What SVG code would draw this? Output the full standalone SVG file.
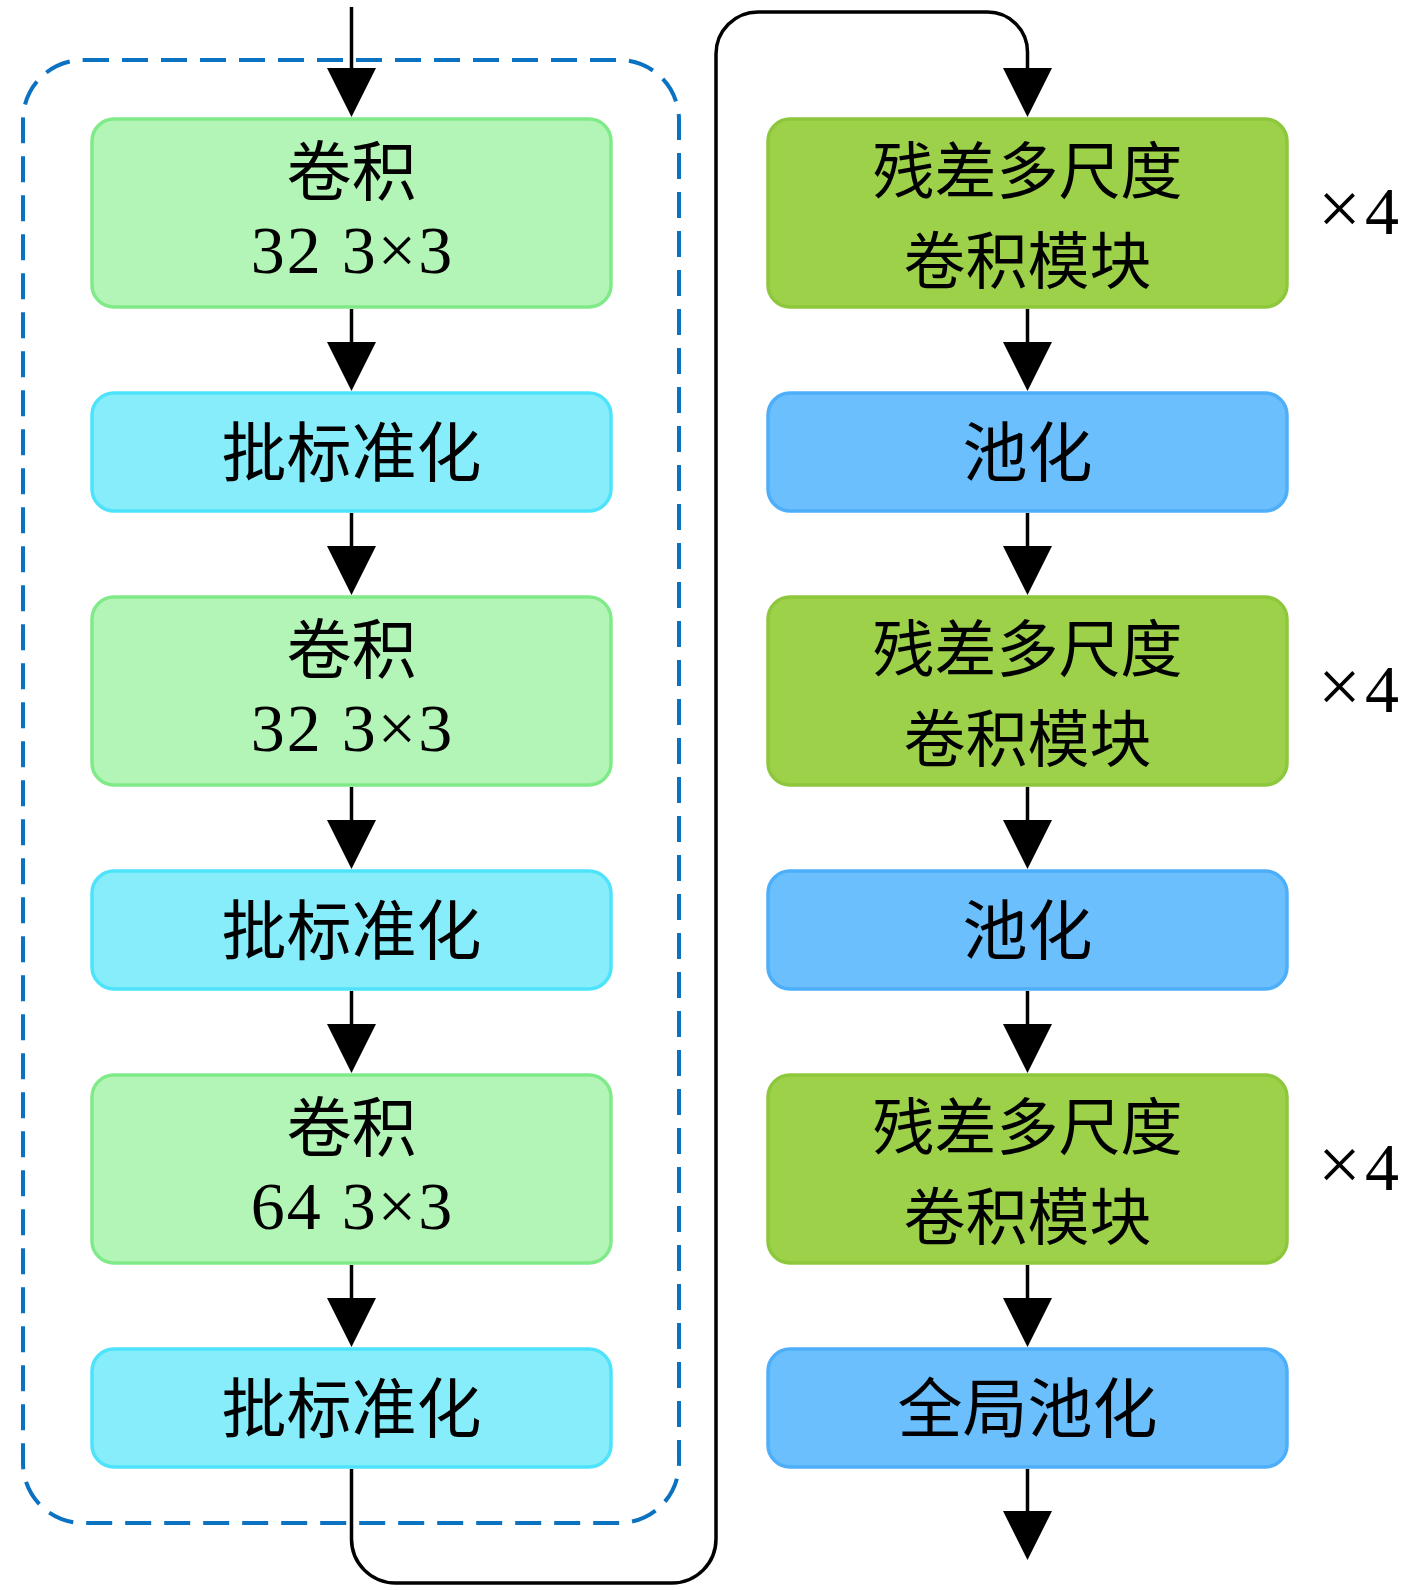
<svg xmlns="http://www.w3.org/2000/svg" width="1417" height="1590" viewBox="0 0 1417 1590">
<style>
.box{stroke-width:3.5}
.conv{fill:#b3f5b6;stroke:#80ea89}
.bn{fill:#88edfb;stroke:#4de3fb}
.res{fill:#9dd14a;stroke:#8dc73c}
.pool{fill:#6bbffd;stroke:#4daefa}
.cn{font-family:"Noto Sans CJK SC","Noto Sans CJK JP",sans-serif;font-size:65px;fill:#000;text-anchor:middle}
.cn2{font-family:"Noto Sans CJK SC","Noto Sans CJK JP",sans-serif;font-size:62px;fill:#000;text-anchor:middle}
.num{font-family:"Liberation Serif","DejaVu Serif",serif;font-size:68px;letter-spacing:2px;fill:#000;text-anchor:middle}
.rep{font-family:"Liberation Serif","DejaVu Serif",serif;font-size:68px;fill:#000}
.conn{fill:none;stroke:#000;stroke-width:3.5}
</style>
<defs>
<marker id="ah" viewBox="0 0 49 49" refX="0" refY="24.5" markerWidth="49" markerHeight="49" markerUnits="userSpaceOnUse" orient="auto">
<path d="M0,0 L49,24.5 L0,49 Z" fill="#000"/>
</marker>
</defs>
<rect id="group" x="23" y="60" width="656" height="1463" rx="60" fill="none" stroke="#0b72c1" stroke-width="4" stroke-dasharray="26 13"/>
<g id="conv1"><rect class="box conv" x="92" y="119" width="519" height="188" rx="22"/><text class="cn" x="351.5" y="195">卷积</text><text class="num" x="352.5" y="273">32 3×3</text></g>
<g id="bn1"><rect class="box bn" x="92" y="393" width="519" height="118" rx="22"/><text class="cn" x="351.5" y="476">批标准化</text></g>
<g id="conv2"><rect class="box conv" x="92" y="597" width="519" height="188" rx="22"/><text class="cn" x="351.5" y="673">卷积</text><text class="num" x="352.5" y="751">32 3×3</text></g>
<g id="bn2"><rect class="box bn" x="92" y="871" width="519" height="118" rx="22"/><text class="cn" x="351.5" y="954">批标准化</text></g>
<g id="conv3"><rect class="box conv" x="92" y="1075" width="519" height="188" rx="22"/><text class="cn" x="351.5" y="1151">卷积</text><text class="num" x="352.5" y="1229">64 3×3</text></g>
<g id="bn3"><rect class="box bn" x="92" y="1349" width="519" height="118" rx="22"/><text class="cn" x="351.5" y="1432">批标准化</text></g>
<g id="res1"><rect class="box res" x="768" y="119" width="519" height="188" rx="22"/><text class="cn2" x="1027.5" y="194">残差多尺度</text><text class="cn2" x="1027.5" y="284">卷积模块</text></g>
<g id="pool1"><rect class="box pool" x="768" y="393" width="519" height="118" rx="22"/><text class="cn" x="1027.5" y="476">池化</text></g>
<g id="res2"><rect class="box res" x="768" y="597" width="519" height="188" rx="22"/><text class="cn2" x="1027.5" y="672">残差多尺度</text><text class="cn2" x="1027.5" y="762">卷积模块</text></g>
<g id="pool2"><rect class="box pool" x="768" y="871" width="519" height="118" rx="22"/><text class="cn" x="1027.5" y="954">池化</text></g>
<g id="res3"><rect class="box res" x="768" y="1075" width="519" height="188" rx="22"/><text class="cn2" x="1027.5" y="1150">残差多尺度</text><text class="cn2" x="1027.5" y="1240">卷积模块</text></g>
<g id="gpool"><rect class="box pool" x="768" y="1349" width="519" height="118" rx="22"/><text class="cn" x="1027.5" y="1432">全局池化</text></g>
<g id="reps">
<text class="rep" x="1318" y="234"><tspan font-size="76">×</tspan><tspan dx="4">4</tspan></text>
<text class="rep" x="1318" y="712"><tspan font-size="76">×</tspan><tspan dx="4">4</tspan></text>
<text class="rep" x="1318" y="1190"><tspan font-size="76">×</tspan><tspan dx="4">4</tspan></text>
</g>
<g id="connectors">
<path class="conn" d="M351.5,7 V68" marker-end="url(#ah)"/>
<path class="conn" d="M351.5,309 V342" marker-end="url(#ah)"/>
<path class="conn" d="M351.5,513 V546" marker-end="url(#ah)"/>
<path class="conn" d="M351.5,787 V820" marker-end="url(#ah)"/>
<path class="conn" d="M351.5,991 V1024" marker-end="url(#ah)"/>
<path class="conn" d="M351.5,1265 V1298" marker-end="url(#ah)"/>
<path class="conn" d="M351.5,1469 V1539 A44,44 0 0 0 395.5,1583 H672 A44,44 0 0 0 716,1539 V54 A42,42 0 0 1 758,12 H987.5 A40,40 0 0 1 1027.5,52 V68" marker-end="url(#ah)"/>
<path class="conn" d="M1027.5,309 V342" marker-end="url(#ah)"/>
<path class="conn" d="M1027.5,513 V546" marker-end="url(#ah)"/>
<path class="conn" d="M1027.5,787 V820" marker-end="url(#ah)"/>
<path class="conn" d="M1027.5,991 V1024" marker-end="url(#ah)"/>
<path class="conn" d="M1027.5,1265 V1298" marker-end="url(#ah)"/>
<path class="conn" d="M1027.5,1469 V1511" marker-end="url(#ah)"/>
</g>
</svg>
